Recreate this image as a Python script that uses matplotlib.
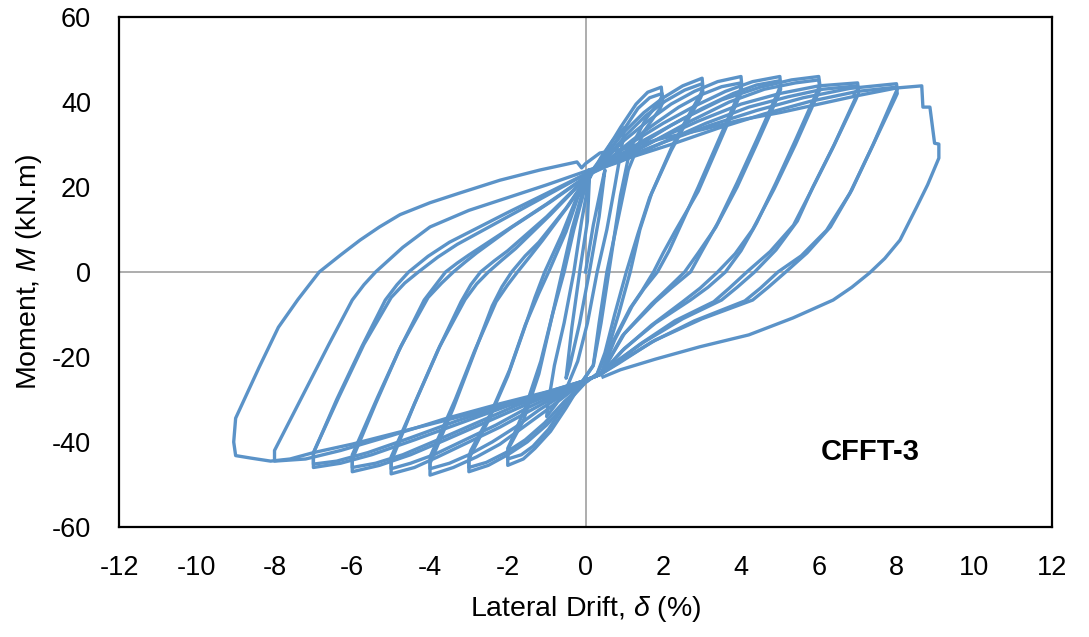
import matplotlib
matplotlib.use("Agg")
import matplotlib.pyplot as plt

# hysteresis cycles: (drift %, moment kN.m)
cyc_start = [(0, 0), (0.2, 11), (0.45, 22), (0.5, 24), (0.35, 13), (0.1, 0), (-0.15, -12),
             (-0.4, -22), (-0.5, -25), (-0.35, -13), (-0.15, 0), (0.05, 12), (0.1, 22)]
cyc_1 = [(0.1, 22), (0.4, 27), (0.7, 31), (1.0, 34), (0.97, 31.5), (0.75, 20), (0.55, 10),
         (0.3, 0), (0.05, -12), (-0.2, -21), (-0.45, -26.5), (-0.75, -31), (-1.0, -34),
         (-0.97, -31.5), (-0.8, -22), (-0.55, -12), (-0.3, 0), (-0.1, 12), (0.1, 22)]
cyc_2a = [(0.1, 23), (0.5, 28), (0.9, 34), (1.3, 39.5), (1.6, 42.3), (1.95, 43.5), (1.97, 41.5),
          (1.9, 40), (1.55, 36), (1.15, 29), (0.9, 18), (0.75, 9), (0.6, 0), (0.4, -12),
          (0.2, -22), (-0.1, -26), (-0.5, -32), (-0.9, -37.5), (-1.3, -41.5), (-1.6, -44),
          (-2.0, -45.5), (-2.0, -43), (-1.95, -41), (-1.6, -35), (-1.2, -24), (-0.9, -12),
          (-0.6, 0), (-0.35, 10), (-0.1, 18), (0.1, 23)]
cyc_2b = [(0.1, 23), (0.55, 27.5), (0.95, 33), (1.35, 38.5), (1.65, 41), (1.97, 42), (1.99, 40),
          (1.92, 38.5), (1.5, 33), (1.1, 24), (0.85, 13), (0.55, 0), (0.35, -12), (0.2, -22),
          (-0.1, -26), (-0.55, -31.5), (-0.95, -37), (-1.35, -41), (-1.65, -43), (-2.0, -44),
          (-2.0, -41.5), (-1.9, -39.5), (-1.55, -32), (-1.15, -21), (-0.85, -10), (-0.55, 0),
          (-0.3, 10), (-0.05, 18.5), (0.1, 23)]
cyc_3a = [(0.1, 23), (0.5, 27.5), (1.0, 33), (1.5, 37.5), (2.0, 41), (2.5, 43.8), (3.0, 45.6),
          (3.02, 43.5), (2.97, 42), (2.6, 36), (2.25, 30), (1.7, 18.5), (1.4, 10), (1.15, 0),
          (0.85, -10), (0.55, -19), (0.3, -24), (0.0, -26), (-0.5, -31), (-1.0, -36), (-1.5, -40),
          (-2.0, -43), (-2.5, -45.5), (-3.0, -47), (-3.0, -44.5), (-2.95, -43), (-2.5, -35),
          (-2.0, -24.5), (-1.6, -14), (-1.3, -6), (-1.05, 0), (-0.6, 9), (-0.25, 17), (0.1, 23)]
cyc_3b = [(0.1, 23), (0.55, 27), (1.05, 32.3), (1.55, 36.8), (2.05, 40.2), (2.55, 42.8), (3.0, 44.3),
          (3.02, 42.3), (2.96, 41), (2.55, 34.5), (2.2, 28.5), (1.65, 17.5), (1.35, 9), (1.05, 0),
          (0.75, -10), (0.5, -19), (0.3, -24), (0.0, -26), (-0.55, -30.5), (-1.05, -35.5),
          (-1.55, -39.5), (-2.05, -42.5), (-2.55, -44.8), (-3.0, -46), (-3.0, -43.5), (-2.95, -42),
          (-2.45, -33.5), (-1.95, -23), (-1.55, -12.5), (-1.2, -5), (-0.95, 0), (-0.5, 9.5),
          (-0.2, 17.5), (0.1, 23)]
cyc_4a = [(0.1, 23), (0.5, 26.5), (1.0, 31), (1.6, 35.5), (2.2, 39.5), (2.8, 42.5), (3.4, 44.8),
          (4.0, 46), (4.02, 44), (3.97, 42.5), (3.4, 30.5), (2.9, 20), (2.45, 11), (2.15, 5),
          (1.85, 0), (1.5, -4), (1.2, -8), (0.75, -16), (0.4, -24), (0, -25.5), (-0.5, -29),
          (-1.0, -32.5), (-1.6, -36.5), (-2.2, -40.5), (-2.8, -43.5), (-3.4, -46), (-4.0, -47.8),
          (-4.0, -45), (-3.95, -44), (-3.4, -32), (-2.9, -20), (-2.4, -8), (-2.15, -3.5),
          (-1.9, 0), (-1.55, 3.8), (-1.2, 7), (-0.5, 15), (0.1, 23)]
cyc_4b = [(0.1, 23), (0.6, 26.5), (1.2, 31), (1.8, 35), (2.4, 38.8), (3.0, 41.8), (3.5, 43.6),
          (4.0, 44.5), (4.02, 42.5), (3.97, 41.5), (3.4, 29.5), (2.9, 19), (2.3, 9.5), (2.0, 4.5),
          (1.75, 0), (1.45, -4.5), (1.15, -8.5), (0.7, -16.5), (0.4, -24), (0, -25.5), (-0.6, -29),
          (-1.2, -32.5), (-1.8, -36.5), (-2.4, -40), (-3.0, -43), (-3.5, -45), (-4.0, -46.3),
          (-4.0, -43.5), (-3.95, -42.5), (-3.35, -30), (-2.85, -18.5), (-2.3, -7), (-2.0, -3),
          (-1.75, 0), (-1.4, 4), (-1.1, 7.5), (-0.45, 15.5), (0.1, 23)]
cyc_5a = [(0.1, 23), (0.6, 26.5), (1.2, 30.5), (2.0, 35), (2.8, 39), (3.6, 42.5), (4.3, 44.8),
          (5.0, 46), (5.02, 44), (4.96, 42.5), (4.4, 31), (3.9, 21), (3.4, 11.5), (3.0, 5),
          (2.7, 0), (2.2, -3.8), (1.8, -7), (1.0, -14.5), (0.4, -24), (0, -25.5), (-0.6, -28.5),
          (-1.4, -32.5), (-2.2, -36.5), (-3.0, -40), (-3.8, -43.5), (-4.4, -46), (-5.0, -47.5),
          (-5.0, -44.5), (-4.95, -43.5), (-4.4, -31), (-3.8, -18.5), (-3.2, -7), (-2.95, -3),
          (-2.7, 0), (-2.35, 2.6), (-2.0, 5), (-1.0, 13), (0.1, 23)]
cyc_5b = [(0.1, 23), (0.7, 26), (1.4, 30), (2.2, 34.5), (3.0, 38.5), (3.8, 42), (4.4, 44),
          (5.0, 45), (5.02, 43), (4.96, 41.5), (4.4, 30), (3.9, 20), (3.35, 10.5), (2.9, 4.5),
          (2.55, 0), (2.1, -4), (1.7, -7.5), (0.95, -15), (0.4, -24), (0, -25.5), (-0.7, -28.5),
          (-1.5, -32), (-2.3, -36), (-3.1, -39.5), (-3.9, -43), (-4.5, -45), (-5.0, -46.3),
          (-5.0, -43.5), (-4.95, -42.5), (-4.35, -30), (-3.75, -17.5), (-3.1, -6.5), (-2.8, -2.8),
          (-2.5, 0), (-2.15, 2.8), (-1.8, 5.5), (-0.9, 13.5), (0.1, 23)]
cyc_6a = [(0.1, 23), (0.7, 26.5), (1.5, 31), (2.5, 36), (3.5, 40.5), (4.5, 43.5), (5.3, 45.2),
          (6.0, 46), (6.03, 44), (5.96, 42.5), (5.4, 31), (4.9, 21), (4.4, 11.5), (4.0, 5),
          (3.6, 0), (3.15, -3.6), (2.7, -6.6), (1.8, -12), (1.0, -18), (0.4, -24), (0, -25.5),
          (-0.7, -28), (-1.6, -31.5), (-2.6, -35.5), (-3.6, -39.5), (-4.5, -43), (-5.3, -45.5),
          (-6.0, -47), (-6.0, -44), (-5.95, -43), (-5.4, -31), (-4.8, -18.5), (-4.15, -6.6),
          (-3.85, -3), (-3.6, 0), (-3.3, 2.1), (-3.0, 4), (-2.0, 10), (-1.0, 16), (0.1, 23)]
cyc_6b = [(0.1, 23), (0.8, 26), (1.7, 30.5), (2.7, 35.5), (3.7, 40), (4.6, 43), (5.4, 44.5),
          (6.0, 45.2), (6.03, 43), (5.96, 41.5), (5.4, 30), (4.85, 19.5), (4.3, 10), (3.85, 4.3),
          (3.4, 0), (2.95, -3.8), (2.5, -7), (1.7, -12.5), (0.95, -18.5), (0.4, -24), (0, -25.5),
          (-0.8, -28), (-1.8, -31.5), (-2.8, -35.5), (-3.8, -39.5), (-4.7, -43), (-5.4, -45),
          (-6.0, -46), (-6.0, -43), (-5.95, -42), (-5.35, -29.5), (-4.75, -17.5), (-4.05, -6),
          (-3.7, -2.6), (-3.4, 0), (-3.1, 2.3), (-2.8, 4.5), (-1.9, 10.5), (-0.9, 16.5), (0.1, 23)]
cyc_7a = [(0.1, 23.5), (0.8, 26.5), (1.8, 31), (2.9, 35.5), (4.0, 39.5), (5.0, 42), (6.0, 43.8),
          (7.0, 44.5), (7.02, 43), (6.9, 42), (6.95, 41), (6.4, 30), (5.85, 20), (5.45, 12),
          (4.9, 5.2), (4.35, 0), (3.9, -3.6), (3.5, -6.6), (2.5, -11), (1.5, -16.5), (0.8, -21),
          (0.4, -24), (0, -25.5), (-0.8, -28), (-2.0, -31.5), (-3.2, -35.5), (-4.4, -39.5),
          (-5.5, -43), (-6.3, -45), (-7.0, -46), (-7.0, -43), (-6.97, -42), (-6.4, -30),
          (-5.75, -17.5), (-5.15, -6.6), (-4.85, -3), (-4.55, 0), (-4.05, 3.7), (-3.5, 7),
          (-2.0, 14), (-1.0, 18.5), (0.1, 23.5)]
cyc_7b = [(0.1, 23.5), (0.9, 26), (2.0, 30.5), (3.1, 35), (4.2, 38.8), (5.2, 41.2), (6.1, 43),
          (7.0, 43.8), (7.02, 42), (6.95, 40.5), (6.35, 29), (5.8, 19), (5.35, 11), (4.75, 4.8),
          (4.15, 0), (3.7, -3.8), (3.3, -7), (2.3, -11.5), (1.4, -17), (0.75, -21.5), (0.4, -24),
          (0, -25.5), (-0.9, -28), (-2.1, -31.5), (-3.3, -35), (-4.5, -39), (-5.6, -42.5),
          (-6.4, -44.5), (-7.0, -45.2), (-7.0, -42.5), (-6.95, -41.5), (-6.35, -29.5), (-5.7, -17),
          (-5.0, -6), (-4.65, -2.6), (-4.3, 0), (-3.8, 3.5), (-3.3, 6.5), (-1.9, 13.5),
          (-0.9, 18.5), (0.1, 23.5)]
cyc_8a = [(0.1, 24), (0.9, 26.5), (2.0, 30.5), (3.2, 34.5), (4.4, 38), (5.6, 41), (6.8, 43.2),
          (8.0, 44.3), (8.02, 43), (7.97, 42), (7.4, 30), (6.85, 19.3), (6.3, 10.6), (5.7, 4.5),
          (5.15, 0), (4.7, -3.6), (4.3, -6.6), (3.0, -11), (1.8, -16), (0.9, -21), (0.4, -24),
          (0, -25.5), (-0.9, -28), (-2.2, -31), (-3.6, -34.5), (-5.0, -38.5), (-6.3, -42),
          (-7.2, -44), (-8.0, -44.5), (-8.0, -42), (-7.3, -29.5), (-6.6, -17), (-6.0, -6.6),
          (-5.7, -3), (-5.4, 0), (-4.7, 5.8), (-4.0, 10.6), (-3.0, 14.5), (-2.0, 17.5),
          (-1.0, 20.5), (0.1, 24)]
cyc_8b = [(0.1, 24), (1.0, 26.5), (2.2, 30), (3.4, 33.8), (4.6, 37.2), (5.8, 40.2), (7.0, 42.5),
          (8.0, 43.5), (8.02, 42), (7.97, 41), (7.35, 29), (6.8, 18.5), (6.2, 9.8), (5.55, 3.8),
          (4.95, 0), (4.5, -3.8), (4.1, -6.8), (2.8, -11.5), (1.7, -16.5), (0.85, -21.5),
          (0.4, -24)]
cyc_9 = [(0.4, -24), (0, -25.5), (-0.5, -27.5), (-1.5, -30), (-3.0, -33.5), (-4.5, -37),
         (-6.0, -40.5), (-7.0, -42.5), (-7.6, -44), (-8.1, -44.5), (-8.6, -43.8), (-9.0, -43.2),
         (-9.05, -40), (-9.0, -34.4), (-8.4, -22.5), (-7.9, -13), (-7.4, -6.5), (-6.85, 0),
         (-6.3, 4), (-5.8, 7.5), (-5.3, 10.6), (-4.77, 13.5), (-4.0, 16.3), (-3.23, 18.6),
         (-2.2, 21.6), (-1.17, 24), (-0.22, 25.9), (-0.1, 24.5), (0.0, 25.5), (0.37, 28),
         (1.0, 29), (2.0, 31.5), (3.0, 33.5), (4.0, 35.8), (5.0, 37.5), (6.0, 39.5), (7.0, 41.5),
         (8.0, 43.3), (8.65, 43.8), (8.68, 38.8), (8.86, 38.8), (8.98, 30.3), (9.09, 30.1),
         (9.09, 26.8), (8.8, 20.5), (8.52, 15.3), (8.09, 7.5), (7.7, 3.2), (7.31, -0.2),
         (6.85, -3.6), (6.37, -6.6), (5.34, -10.8), (4.2, -14.8), (2.94, -17.6), (1.8, -20.5),
         (0.9, -23), (0.45, -24.7)]

xticks = list(range(-12, 13, 2))
yticks = list(range(-60, 61, 20))
label_x = "Lateral Drift, $\\delta$ (%)"
label_y = "Moment, $M$ (kN.m)"
specimen = "CFFT-3"

plt.rcParams['font.family'] = ['Liberation Sans', 'DejaVu Sans']
plt.rcParams['mathtext.fontset'] = 'custom'
plt.rcParams['mathtext.rm'] = 'Liberation Sans'
plt.rcParams['mathtext.it'] = 'Liberation Sans:italic'
plt.rcParams['axes.unicode_minus'] = False

blue = '#5B93C8'
cycles = [cyc_start, cyc_1, cyc_2a, cyc_2b, cyc_3a, cyc_3b, cyc_4a, cyc_4b, cyc_5a, cyc_5b,
          cyc_6a, cyc_6b, cyc_7a, cyc_7b, cyc_8a, cyc_8b, cyc_9]

fig = plt.figure(figsize=(10.89, 6.37), dpi=100)
ax = fig.add_axes([0.1093, 0.1727, 0.8567, 0.8006])

ax.axhline(0, color='#A0A0A0', lw=1.2, zorder=1)
ax.axvline(0, color='#A0A0A0', lw=1.2, zorder=1)

for cyc in cycles:
    xs, ms = zip(*cyc)
    ax.plot(xs, ms, color=blue, lw=2.4, zorder=2, solid_joinstyle='round')

ax.set_xlim(-12, 12)
ax.set_ylim(-60, 60)
ax.set_xticks(xticks)
ax.set_yticks(yticks)
ax.tick_params(length=0, labelsize=19.5)
ax.tick_params(axis='y', pad=20)
ax.tick_params(axis='x', pad=20)
for s in ax.spines.values():
    s.set_linewidth(1.6)

ax.set_xlabel(label_x, fontsize=20.5)
ax.xaxis.set_label_coords(0.5, -0.132)
ax.set_ylabel(label_y, fontsize=20.5)
ax.yaxis.set_label_coords(-0.08, 0.5)

ax.text(7.33, -42.4, specimen, fontsize=21, fontweight='bold', ha='center', va='center')

fig.savefig('out.png', dpi=100)
